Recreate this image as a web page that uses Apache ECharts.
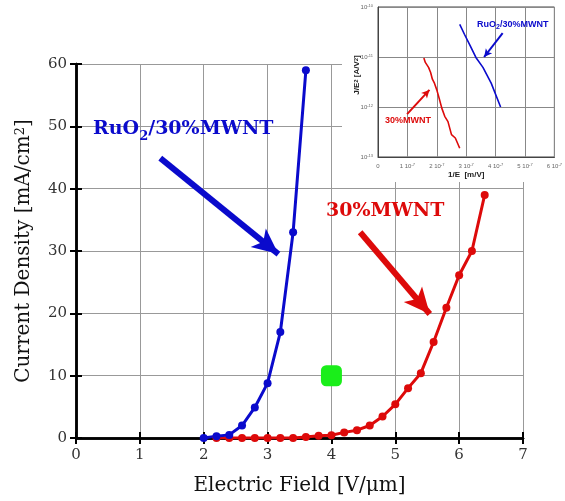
<!DOCTYPE html>
<html>
<head>
<meta charset="utf-8">
<script src="https://cdn.jsdelivr.net/npm/echarts@6/dist/echarts.min.js"></script>
<style>
  html, body { margin: 0; padding: 0; background: #fff; }
  #main { width: 565px; height: 501px; }
</style>
</head>
<body>
<div id="main"></div>
<script>
// main plot: current density vs electric field
var ruoField = [2.0, 2.2, 2.4, 2.6, 2.8, 3.0, 3.2, 3.4, 3.6]
var ruoDensity = [0, 0.3, 0.5, 2.0, 4.9, 8.8, 17, 33, 59]
var mwntField = [2.2, 2.4, 2.6, 2.8, 3.0, 3.2, 3.4, 3.6, 3.8, 4.0, 4.2, 4.4, 4.6, 4.8, 5.0, 5.2, 5.4, 5.6, 5.8, 6.0, 6.2, 6.4]
var mwntDensity = [0, 0, 0, 0, 0, 0, 0, 0.15, 0.35, 0.45, 0.9, 1.25, 2.0, 3.45, 5.4, 8.0, 10.4, 15.4, 20.9, 26.1, 30.0, 39.0]
var greenMark = [[4, 10]]

// inset: Fowler-Nordheim plot, 1/E in 1e-7 m/V
var ruoInvE = [2.78, 2.94, 3.13, 3.33, 3.57, 3.85, 4.17]
var ruoFN = [4.5e-11, 2.85e-11, 1.7e-11, 9.8e-12, 6.2e-12, 3.0e-12, 1.0e-12]
var mwntInvE = [1.56, 1.61, 1.67, 1.72, 1.79, 1.85, 1.92, 2.0, 2.08, 2.17, 2.27, 2.38, 2.5, 2.63, 2.78]
var mwntFN = [9.5e-12, 7.8e-12, 7.2e-12, 6.2e-12, 4.9e-12, 3.6e-12, 3.0e-12, 2.2e-12, 1.5e-12, 9.5e-13, 6.5e-13, 5.1e-13, 2.8e-13, 2.4e-13, 1.5e-13]

var BLUE = '#0a0acc'
var RED = '#dd0a0a'
var SERIF = '"DejaVu Serif", "Liberation Serif", serif'
var SANS = '"Liberation Sans", Arial, sans-serif'

function zip (xs, ys) {
  return xs.map(function (x, i) { return [x, ys[i]] })
}

var chart = echarts.init(document.getElementById('main'))

var mainAxisLine = { lineStyle: { color: '#000', width: 2.5 } }
var mainTick = { inside: true, length: 6, lineStyle: { color: '#000', width: 2 } }
var mainSplit = { show: true, lineStyle: { color: '#999', width: 1 } }

var option = {
  animation: false,
  backgroundColor: '#fff',
  grid: [
    { left: 76, right: 42, top: 64, bottom: 63 },
    { left: 378, right: 6, top: 7, bottom: 344, z: 10, show: true, borderColor: '#444', borderWidth: 1, backgroundColor: '#fff' }
  ],
  xAxis: [
    {
      gridIndex: 0, type: 'value', min: 0, max: 7, interval: 1,
      axisLine: mainAxisLine, axisTick: mainTick, splitLine: mainSplit,
      axisLabel: { margin: 10, fontFamily: SERIF, fontSize: 15, color: '#333' },
      name: 'Electric Field [V/\u03bcm]', nameLocation: 'middle', nameGap: 38,
      nameTextStyle: { fontFamily: SERIF, fontSize: 20, color: '#111' }
    },
    {
      gridIndex: 0, type: 'value', min: 0, max: 7, interval: 1, position: 'top',
      axisLine: mainAxisLine, axisTick: mainTick, splitLine: { show: false },
      axisLabel: { show: false }
    },
    {
      gridIndex: 1, type: 'value', min: 0, max: 6, interval: 1, z: 11,
      axisLine: { lineStyle: { color: '#444', width: 1 } },
      axisTick: { show: false },
      splitLine: { show: true, lineStyle: { color: '#888', width: 1 } },
      axisLabel: {
        margin: 6, fontFamily: SANS, fontSize: 6, color: '#666',
        formatter: function (v) { return v === 0 ? '0' : v + ' 10{sup|-7}' },
        rich: { sup: { fontSize: 4, verticalAlign: 'top', color: '#666', fontFamily: SANS } }
      },
      name: '1/E  [m/V]', nameLocation: 'middle', nameGap: 14,
      nameTextStyle: { fontFamily: SANS, fontSize: 8, fontWeight: 'bold', color: '#222' }
    }
  ],
  yAxis: [
    {
      gridIndex: 0, type: 'value', min: 0, max: 60, interval: 10,
      axisLine: mainAxisLine, axisTick: mainTick, splitLine: mainSplit,
      axisLabel: { margin: 9, fontFamily: SERIF, fontSize: 15, color: '#333' },
      name: 'Current Density [mA/cm{sup|2}]', nameLocation: 'middle', nameGap: 42,
      nameTextStyle: {
        fontFamily: SERIF, fontSize: 20, color: '#111',
        rich: { sup: { fontFamily: SERIF, fontSize: 13, verticalAlign: 'top', color: '#111' } }
      }
    },
    {
      gridIndex: 0, type: 'value', min: 0, max: 60, interval: 10, position: 'right',
      axisLine: mainAxisLine, axisTick: mainTick, splitLine: { show: false },
      axisLabel: { show: false }
    },
    {
      gridIndex: 1, type: 'log', min: 1e-13, max: 1e-10, logBase: 10, z: 11,
      axisLine: { lineStyle: { color: '#444', width: 1 } },
      axisTick: { show: false },
      splitLine: { show: true, lineStyle: { color: '#888', width: 1 } },
      axisLabel: {
        margin: 5, fontFamily: SANS, fontSize: 6, color: '#666',
        formatter: function (v) { return '10{sup|' + Math.round(Math.log10(v)) + '}' },
        rich: { sup: { fontSize: 4, verticalAlign: 'top', color: '#666', fontFamily: SANS } }
      }
    }
  ],
  graphic: [
    // white backing for the inset
    { type: 'rect', z: 5, shape: { x: 342, y: 0, width: 223, height: 182 }, style: { fill: '#fff' } },
    {
      type: 'text', z: 20, left: 93, top: 120,
      style: {
        text: 'RuO{sub|2}/30%MWNT', fill: BLUE, fontFamily: SERIF, fontSize: 19, fontWeight: 'bold',
        rich: { sub: { fontFamily: SERIF, fontSize: 13, fontWeight: 'bold', fill: BLUE, padding: [14, 0, 0, 0] } }
      }
    },
    {
      type: 'text', z: 20, left: 326, top: 202,
      style: { text: '30%MWNT', fill: RED, fontFamily: SERIF, fontSize: 19, fontWeight: 'bold' }
    },
    {
      type: 'text', z: 20, x: 357, y: 75, rotation: Math.PI / 2,
      style: {
        text: 'J/E{sup|2} [A/V{sup|2}]', fill: '#222', fontFamily: SANS, fontSize: 8, fontWeight: 'bold',
        align: 'center', verticalAlign: 'middle',
        rich: { sup: { fontFamily: SANS, fontSize: 6, fontWeight: 'bold', verticalAlign: 'top', fill: '#222' } }
      }
    },
    {
      type: 'text', z: 20, left: 477, top: 20,
      style: {
        text: 'RuO{sub|2}/30%MWNT', fill: BLUE, fontFamily: SANS, fontSize: 9, fontWeight: 'bold',
        rich: { sub: { fontFamily: SANS, fontSize: 7, fontWeight: 'bold', fill: BLUE, padding: [6, 0, 0, 0] } }
      }
    },
    {
      type: 'text', z: 20, left: 385, top: 116,
      style: { text: '30%MWNT', fill: RED, fontFamily: SANS, fontSize: 9, fontWeight: 'bold' }
    }
  ],
  series: [
    {
      name: '30%MWNT', type: 'line', xAxisIndex: 0, yAxisIndex: 0,
      data: zip(mwntField, mwntDensity),
      symbol: 'circle', symbolSize: 8,
      lineStyle: { color: RED, width: 3 }, itemStyle: { color: RED },
      markLine: {
        silent: true, symbol: ['none', 'arrow'], symbolSize: [18, 26],
        lineStyle: { color: RED, width: 6, type: 'solid' }, label: { show: false },
        data: [[{ coord: [4.45, 33] }, { coord: [5.54, 19.9] }]]
      }
    },
    {
      name: 'RuO2/30%MWNT', type: 'line', xAxisIndex: 0, yAxisIndex: 0,
      data: zip(ruoField, ruoDensity),
      symbol: 'circle', symbolSize: 8,
      lineStyle: { color: BLUE, width: 3 }, itemStyle: { color: BLUE },
      markLine: {
        silent: true, symbol: ['none', 'arrow'], symbolSize: [18, 26],
        lineStyle: { color: BLUE, width: 6, type: 'solid' }, label: { show: false },
        data: [[{ coord: [1.32, 44.9] }, { coord: [3.17, 29.5] }]]
      }
    },
    {
      name: 'marker', type: 'scatter', xAxisIndex: 0, yAxisIndex: 0,
      data: greenMark, symbol: 'roundRect', symbolSize: 21,
      itemStyle: { color: '#1aee1a', opacity: 1 }
    },
    {
      name: 'inset MWNT', type: 'line', xAxisIndex: 2, yAxisIndex: 2, z: 15,
      data: zip(mwntInvE, mwntFN), showSymbol: false,
      lineStyle: { color: RED, width: 1.6 },
      markLine: {
        silent: true, symbol: ['none', 'arrow'], symbolSize: [6, 8], z: 15,
        lineStyle: { color: RED, width: 2, type: 'solid' }, label: { show: false },
        data: [[{ coord: [0.99, 7.2e-13] }, { coord: [1.75, 2.2e-12] }]]
      }
    },
    {
      name: 'inset RuO2', type: 'line', xAxisIndex: 2, yAxisIndex: 2, z: 15,
      data: zip(ruoInvE, ruoFN), showSymbol: false,
      lineStyle: { color: BLUE, width: 1.6 },
      markLine: {
        silent: true, symbol: ['none', 'arrow'], symbolSize: [6, 8], z: 15,
        lineStyle: { color: BLUE, width: 2, type: 'solid' }, label: { show: false },
        data: [[{ coord: [4.24, 3.0e-11] }, { coord: [3.61, 1.0e-11] }]]
      }
    }
  ]
}

chart.setOption(option)
</script>
</body>
</html>
